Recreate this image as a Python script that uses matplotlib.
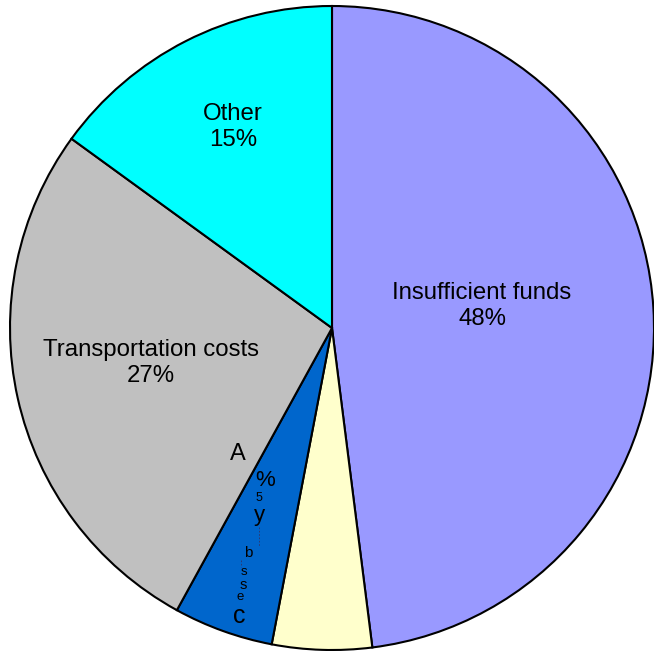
import matplotlib
matplotlib.use("Agg")
import matplotlib.pyplot as plt
from matplotlib.lines import Line2D

plt.rcParams['font.family'] = ['Liberation Sans', 'DejaVu Sans']

categories = ["Insufficient funds", "", "", "Transportation costs", "Other"]
values = [48, 5, 5, 27, 15]
colors = ["#9999FF", "#FFFFCC", "#0066CC", "#C0C0C0", "#00FFFF"]
pct_labels = ["48%", "", "", "27%", "15%"]

W, H = 654, 651
fig = plt.figure(figsize=(W / 100, H / 100), dpi=100)
R = 322
cx, cy = 332, 328
ax = fig.add_axes([(cx - R) / W, (H - cy - R) / H, 2 * R / W, 2 * R / H])

wedges, _ = ax.pie(values, colors=colors, startangle=90, counterclock=False,
                   radius=1.0, wedgeprops=dict(edgecolor='black', linewidth=1.5))
ax.set_xlim(-1, 1)
ax.set_ylim(-1, 1)
ax.set_aspect('auto')
ax.axis('off')

# label anchor points (pie-radius units)
label_pos = [(0.466, 0.068), None, None, (-0.562, -0.109), (-0.307, 0.624)]
for i, pos in enumerate(label_pos):
    if pos is None:
        continue
    ax.text(pos[0], pos[1], categories[i] + "\n" + pct_labels[i],
            ha='center', va='center', fontsize=17.3, linespacing=1.22)

# scattered, garbled label inside the small blue slice
garbled = [("A", 238, 454, 17), ("%", 265, 480, 16), ("5", 259, 498, 9),
           ("y", 259, 516, 16), ("b", 248, 553, 11), ("s", 244, 572, 9.5),
           ("s", 243, 585, 10.5), ("e", 240, 597, 9.5), ("c", 239, 616, 18)]
for ch, px, py, fs in garbled:
    fig.text(px / W, 1 - py / H, ch, ha='center', va='center', fontsize=fs)

for (x0, y0, y1) in [(259, 527, 546), (241, 560, 567)]:
    fig.add_artist(Line2D([x0 / W, x0 / W], [1 - y0 / H, 1 - y1 / H],
                          transform=fig.transFigure, color='#333366',
                          linewidth=0.6, linestyle=(0, (2, 2))))

fig.savefig("out.png", dpi=100)
